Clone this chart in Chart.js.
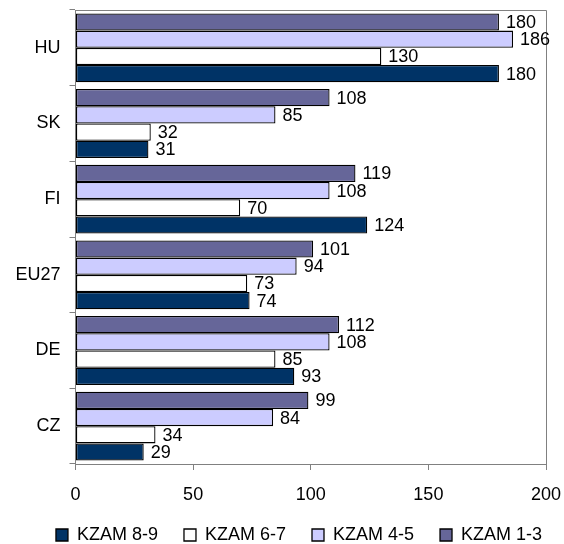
<!DOCTYPE html>
<html>
<head>
<meta charset="utf-8">
<style>
  html, body { margin: 0; padding: 0; background: #ffffff; }
  #wrap { width: 564px; height: 544px; }
</style>
<script src="https://cdn.jsdelivr.net/npm/chart.js@4/dist/chart.umd.min.js"></script>
</head>
<body>
<div id="wrap"><canvas id="chart" width="564" height="544"></canvas></div>
<script>
// Countries, top to bottom
const countries = ['HU', 'SK', 'FI', 'EU27', 'DE', 'CZ'];

// Values per occupation group (KZAM classes)
const kzam13 = [180, 108, 119, 101, 112, 99];
const kzam45 = [186, 85, 108, 94, 108, 84];
const kzam67 = [130, 32, 70, 73, 85, 34];
const kzam89 = [180, 31, 124, 74, 93, 29];

// Value axis ticks
const xTicks = [0, 50, 100, 150, 200];

const FONT = '"Liberation Sans", Arial, sans-serif';
const AXIS_GRAY = '#808080';

// Keep the plot area exactly where the axes are sized, without label padding
function noAutoPadding(scale) {
  scale.paddingLeft = 0;
  scale.paddingRight = 0;
  scale.paddingTop = 0;
  scale.paddingBottom = 0;
}

// Gray frame on the top and right of the plot area
const frame = {
  id: 'frame',
  beforeDatasetsDraw(chart) {
    const { ctx, chartArea: a } = chart;
    ctx.save();
    ctx.strokeStyle = AXIS_GRAY;
    ctx.lineWidth = 1;
    ctx.beginPath();
    ctx.moveTo(a.left, a.top + 0.5);
    ctx.lineTo(a.right + 0.5, a.top + 0.5);
    ctx.lineTo(a.right + 0.5, a.bottom);
    ctx.stroke();
    ctx.restore();
  }
};

// Legend row sits a little right of centre and close under the tick labels
const legendPlacement = {
  id: 'legendPlacement',
  afterLayout(chart) {
    const lg = chart.legend;
    if (!lg) return;
    const dx = 26, dy = -6;
    lg.left += dx; lg.right += dx;
    lg.top += dy; lg.bottom += dy;
  }
};

// Value written just past the end of each bar
const valueLabels = {
  id: 'valueLabels',
  afterDatasetsDraw(chart) {
    const { ctx } = chart;
    ctx.save();
    ctx.font = '18px ' + FONT;
    ctx.fillStyle = '#000000';
    ctx.textAlign = 'left';
    ctx.textBaseline = 'middle';
    chart.data.datasets.forEach((ds, di) => {
      const meta = chart.getDatasetMeta(di);
      meta.data.forEach((bar, i) => {
        ctx.fillText(String(ds.data[i]), bar.x + 7, bar.y + 1);
      });
    });
    ctx.restore();
  }
};

const series = [
  { label: 'KZAM 1-3', data: kzam13, color: '#666699' },
  { label: 'KZAM 4-5', data: kzam45, color: '#ccccff' },
  { label: 'KZAM 6-7', data: kzam67, color: '#ffffff' },
  { label: 'KZAM 8-9', data: kzam89, color: '#003366' }
];

new Chart(document.getElementById('chart'), {
  type: 'bar',
  data: {
    labels: countries,
    datasets: series.map(s => ({
      label: s.label,
      data: s.data,
      backgroundColor: s.color,
      borderColor: '#000000',
      borderWidth: 1.3,
      borderSkipped: false,
      categoryPercentage: 0.91,
      barPercentage: 1.0
    }))
  },
  options: {
    indexAxis: 'y',
    responsive: false,
    animation: false,
    devicePixelRatio: 1,
    layout: {
      autoPadding: false,
      padding: { left: 0, right: 18, top: 10, bottom: -16 }
    },
    scales: {
      x: {
        min: 0,
        max: 200,
        afterBuildTicks(scale) {
          scale.ticks = xTicks.map(v => ({ value: v }));
        },
        afterFit(scale) {
          scale.height = 42;
          noAutoPadding(scale);
        },
        border: { display: true, color: AXIS_GRAY, width: 1 },
        grid: {
          display: true,
          drawOnChartArea: false,
          drawTicks: true,
          tickLength: 6,
          color: AXIS_GRAY
        },
        ticks: {
          color: '#000000',
          font: { family: FONT, size: 18 },
          padding: 14
        }
      },
      y: {
        offset: true,
        afterFit(scale) {
          scale.width = 75.5;
          noAutoPadding(scale);
        },
        border: { display: true, color: AXIS_GRAY, width: 1 },
        grid: {
          display: true,
          offset: true,
          drawOnChartArea: false,
          drawTicks: true,
          tickLength: 6,
          color: AXIS_GRAY
        },
        ticks: {
          color: '#000000',
          font: { family: FONT, size: 18 },
          padding: 9
        }
      }
    },
    plugins: {
      legend: {
        position: 'bottom',
        reverse: true,
        labels: {
          color: '#000000',
          font: { family: FONT, size: 18 },
          boxWidth: 12,
          boxHeight: 12,
          padding: 26
        }
      },
      tooltip: { enabled: false }
    }
  },
  plugins: [frame, legendPlacement, valueLabels]
});
</script>
</body>
</html>
